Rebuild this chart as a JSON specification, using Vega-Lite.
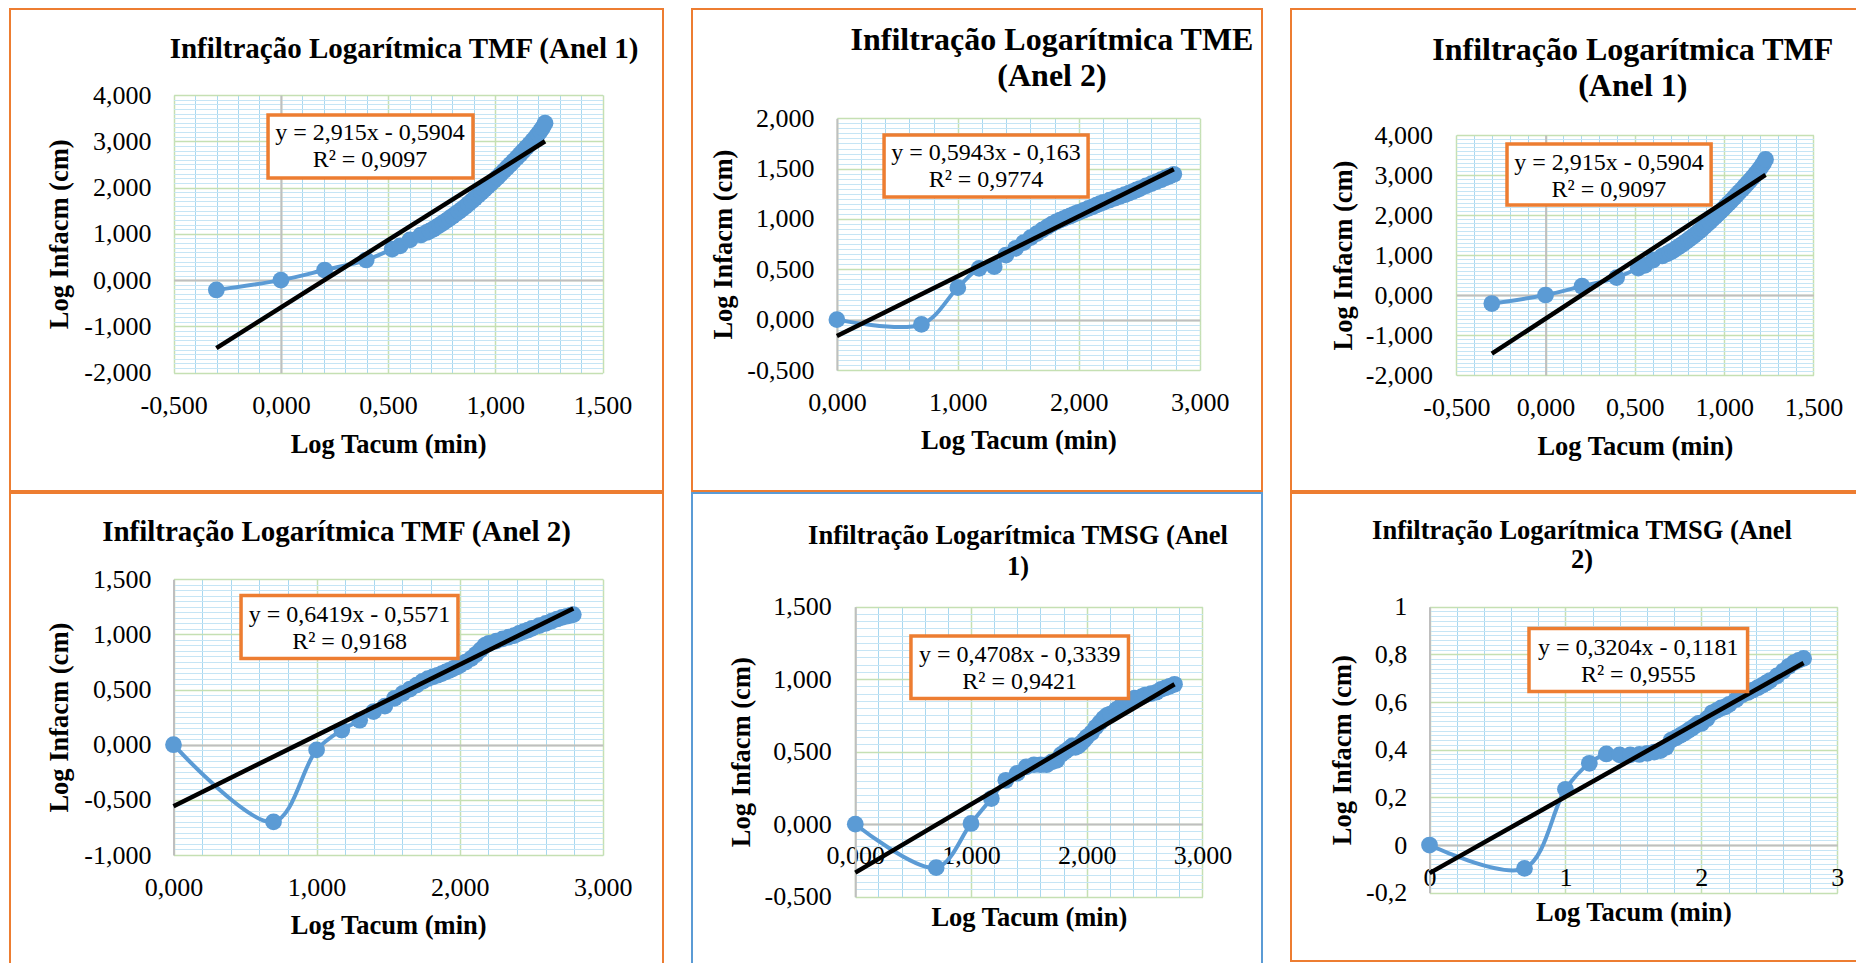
{
  "$schema": "https://vega.github.io/schema/vega-lite/v6.json",
  "background": "white",
  "padding": {"left": 9, "top": 8, "right": 4, "bottom": 4},
  "spacing": 27,
  "config": {
    "view": {"stroke": "#ED7D31", "strokeWidth": 2},
    "axis": {"labelFont": "Liberation Serif", "titleFont": "Liberation Serif", "labelColor": "#000000", "titleColor": "#000000", "labelFlush": false, "labelOverlap": false, "labelBound": false, "tickSize": 0},
    "title": {"font": "Liberation Serif", "fontWeight": "bold", "color": "#000000", "anchor": "middle", "frame": "group"}
  },
  "datasets": {
    "tmf1": [{"t":-0.301,"i":-0.213},{"t":0,"i":0},{"t":0.204,"i":0.219},{"t":0.398,"i":0.435},{"t":0.519,"i":0.67},{"t":0.556,"i":0.74},{"t":0.602,"i":0.87},{"t":0.653,"i":0.975},{"t":0.68,"i":1.03},{"t":0.695,"i":1.065},{"t":0.71,"i":1.1},{"t":0.725,"i":1.145},{"t":0.74,"i":1.19},{"t":0.755,"i":1.235},{"t":0.77,"i":1.28},{"t":0.785,"i":1.33},{"t":0.8,"i":1.38},{"t":0.815,"i":1.43},{"t":0.83,"i":1.48},{"t":0.845,"i":1.535},{"t":0.86,"i":1.59},{"t":0.875,"i":1.65},{"t":0.89,"i":1.71},{"t":0.905,"i":1.77},{"t":0.92,"i":1.83},{"t":0.935,"i":1.895},{"t":0.95,"i":1.96},{"t":0.965,"i":2.025},{"t":0.98,"i":2.09},{"t":0.995,"i":2.155},{"t":1.01,"i":2.22},{"t":1.025,"i":2.29},{"t":1.04,"i":2.36},{"t":1.055,"i":2.43},{"t":1.07,"i":2.5},{"t":1.085,"i":2.57},{"t":1.1,"i":2.64},{"t":1.115,"i":2.715},{"t":1.13,"i":2.79},{"t":1.145,"i":2.865},{"t":1.16,"i":2.94},{"t":1.175,"i":3.02},{"t":1.19,"i":3.1},{"t":1.2,"i":3.16},{"t":1.21,"i":3.22},{"t":1.22,"i":3.29},{"t":1.232,"i":3.39}],
    "tmf1_trend": [{"t":-0.301,"i":-1.468},{"t":1.232,"i":3.001}],
    "eq_tmf1": [{"eq":"y = 2,915x - 0,5904\nR² = 0,9097"}],
    "tme2": [{"t":0,"i":0},{"t":0.699,"i":-0.047},{"t":1,"i":0.318},{"t":1.176,"i":0.51},{"t":1.301,"i":0.526},{"t":1.398,"i":0.642},{"t":1.477,"i":0.708},{"t":1.544,"i":0.765},{"t":1.602,"i":0.814},{"t":1.653,"i":0.854},{"t":1.699,"i":0.892},{"t":1.74,"i":0.921},{"t":1.778,"i":0.949},{"t":1.813,"i":0.972},{"t":1.845,"i":0.989},{"t":1.875,"i":1.003},{"t":1.903,"i":1.018},{"t":1.929,"i":1.03},{"t":1.954,"i":1.043},{"t":1.978,"i":1.055},{"t":2,"i":1.066},{"t":2.041,"i":1.086},{"t":2.079,"i":1.105},{"t":2.114,"i":1.121},{"t":2.146,"i":1.137},{"t":2.176,"i":1.152},{"t":2.204,"i":1.165},{"t":2.255,"i":1.187},{"t":2.301,"i":1.208},{"t":2.342,"i":1.225},{"t":2.38,"i":1.241},{"t":2.415,"i":1.257},{"t":2.447,"i":1.273},{"t":2.477,"i":1.288},{"t":2.505,"i":1.302},{"t":2.556,"i":1.328},{"t":2.602,"i":1.351},{"t":2.643,"i":1.372},{"t":2.681,"i":1.39},{"t":2.716,"i":1.408},{"t":2.748,"i":1.424},{"t":2.786,"i":1.444}],
    "tme2_trend": [{"t":0,"i":-0.163},{"t":2.786,"i":1.493}],
    "eq_tme2": [{"eq":"y = 0,5943x - 0,163\nR² = 0,9774"}],
    "tmf2": [{"t":0,"i":0},{"t":0.699,"i":-0.7},{"t":1,"i":-0.047},{"t":1.176,"i":0.133},{"t":1.301,"i":0.222},{"t":1.398,"i":0.3},{"t":1.477,"i":0.35},{"t":1.544,"i":0.42},{"t":1.602,"i":0.465},{"t":1.653,"i":0.505},{"t":1.699,"i":0.54},{"t":1.74,"i":0.575},{"t":1.778,"i":0.6},{"t":1.813,"i":0.615},{"t":1.845,"i":0.63},{"t":1.875,"i":0.645},{"t":1.903,"i":0.66},{"t":1.929,"i":0.675},{"t":1.954,"i":0.69},{"t":1.978,"i":0.705},{"t":2,"i":0.72},{"t":2.041,"i":0.75},{"t":2.079,"i":0.78},{"t":2.114,"i":0.82},{"t":2.146,"i":0.86},{"t":2.176,"i":0.9},{"t":2.204,"i":0.92},{"t":2.255,"i":0.94},{"t":2.301,"i":0.96},{"t":2.342,"i":0.975},{"t":2.38,"i":0.99},{"t":2.415,"i":1.01},{"t":2.447,"i":1.025},{"t":2.477,"i":1.04},{"t":2.505,"i":1.055},{"t":2.556,"i":1.08},{"t":2.602,"i":1.1},{"t":2.643,"i":1.12},{"t":2.681,"i":1.14},{"t":2.716,"i":1.155},{"t":2.748,"i":1.165},{"t":2.778,"i":1.175},{"t":2.794,"i":1.18}],
    "tmf2_trend": [{"t":0,"i":-0.557},{"t":2.794,"i":1.236}],
    "eq_tmf2": [{"eq":"y = 0,6419x - 0,5571\nR² = 0,9168"}],
    "tmsg1": [{"t":0,"i":0},{"t":0.699,"i":-0.3},{"t":1,"i":0.005},{"t":1.176,"i":0.177},{"t":1.301,"i":0.303},{"t":1.398,"i":0.35},{"t":1.477,"i":0.395},{"t":1.544,"i":0.41},{"t":1.602,"i":0.41},{"t":1.653,"i":0.41},{"t":1.699,"i":0.43},{"t":1.74,"i":0.44},{"t":1.778,"i":0.48},{"t":1.813,"i":0.5},{"t":1.845,"i":0.52},{"t":1.875,"i":0.54},{"t":1.903,"i":0.53},{"t":1.929,"i":0.54},{"t":1.954,"i":0.56},{"t":1.978,"i":0.58},{"t":2,"i":0.6},{"t":2.041,"i":0.63},{"t":2.079,"i":0.67},{"t":2.114,"i":0.7},{"t":2.146,"i":0.73},{"t":2.176,"i":0.75},{"t":2.204,"i":0.76},{"t":2.255,"i":0.79},{"t":2.301,"i":0.82},{"t":2.342,"i":0.84},{"t":2.38,"i":0.86},{"t":2.415,"i":0.87},{"t":2.447,"i":0.87},{"t":2.477,"i":0.88},{"t":2.505,"i":0.89},{"t":2.556,"i":0.9},{"t":2.602,"i":0.91},{"t":2.643,"i":0.93},{"t":2.681,"i":0.94},{"t":2.716,"i":0.95},{"t":2.759,"i":0.965}],
    "tmsg1_trend": [{"t":0,"i":-0.334},{"t":2.759,"i":0.965}],
    "eq_tmsg1": [{"eq":"y = 0,4708x - 0,3339\nR² = 0,9421"}],
    "tmsg2": [{"t":0,"i":0},{"t":0.699,"i":-0.098},{"t":1,"i":0.234},{"t":1.176,"i":0.343},{"t":1.301,"i":0.382},{"t":1.398,"i":0.378},{"t":1.477,"i":0.378},{"t":1.544,"i":0.38},{"t":1.602,"i":0.385},{"t":1.653,"i":0.39},{"t":1.699,"i":0.396},{"t":1.74,"i":0.41},{"t":1.778,"i":0.44},{"t":1.813,"i":0.45},{"t":1.845,"i":0.46},{"t":1.875,"i":0.47},{"t":1.903,"i":0.48},{"t":1.929,"i":0.49},{"t":1.954,"i":0.5},{"t":1.978,"i":0.51},{"t":2,"i":0.51},{"t":2.041,"i":0.53},{"t":2.079,"i":0.555},{"t":2.114,"i":0.565},{"t":2.146,"i":0.575},{"t":2.176,"i":0.58},{"t":2.204,"i":0.59},{"t":2.255,"i":0.61},{"t":2.301,"i":0.63},{"t":2.342,"i":0.64},{"t":2.38,"i":0.65},{"t":2.415,"i":0.66},{"t":2.447,"i":0.67},{"t":2.477,"i":0.68},{"t":2.505,"i":0.69},{"t":2.556,"i":0.71},{"t":2.602,"i":0.73},{"t":2.643,"i":0.75},{"t":2.681,"i":0.765},{"t":2.716,"i":0.775},{"t":2.752,"i":0.783}],
    "tmsg2_trend": [{"t":0,"i":-0.118},{"t":2.752,"i":0.764}],
    "eq_tmsg2": [{"eq":"y = 0,3204x - 0,1181\nR² = 0,9555"}]
  },
  "hconcat": [
    {
      "spacing": 0,
      "vconcat": [
        {
          "width": 653, "height": 482,
          "title": {"text": "Infiltração Logarítmica TMF (Anel 1)", "fontSize": 29, "offset": -54.8, "dx": 67.5},
          "data": {"name": "tmf1"},
          "layer": [
            {"mark": {"type": "line", "interpolate": "catmull-rom", "color": "#5B9BD5", "strokeWidth": 4},
             "encoding": {
               "x": {"field": "t", "type": "quantitative", "scale": {"domain": [-0.5, 1.5], "range": [163.7, 592.5], "nice": false, "zero": false}, "axis": {"orient": "top", "tickCount": 20, "grid": true, "gridColor": "#A9D8F0", "gridWidth": 1, "labels": false, "ticks": false, "domain": false, "title": null}},
               "y": {"field": "i", "type": "quantitative", "scale": {"domain": [-2, 4], "range": [363.7, 86], "nice": false, "zero": false}, "axis": {"orient": "left", "tickCount": 60, "grid": true, "gridColor": "#C6E5F5", "gridWidth": 1, "labels": false, "ticks": false, "domain": false, "title": null}}}},
            {"mark": {"type": "point", "filled": true, "size": 280, "color": "#5B9BD5", "opacity": 1},
             "encoding": {
               "x": {"field": "t", "type": "quantitative", "scale": {"domain": [-0.5, 1.5], "range": [163.7, 592.5], "nice": false, "zero": false}, "axis": {"orient": "top", "values": [-0.5, 0, 0.5, 1, 1.5], "grid": true, "gridColor": "#C5E0B3", "gridWidth": 1.5, "labels": false, "ticks": false, "domain": false, "title": null}},
               "y": {"field": "i", "type": "quantitative", "scale": {"domain": [-2, 4], "range": [363.7, 86], "nice": false, "zero": false}, "axis": {"orient": "left", "values": [-2, -1, 0, 1, 2, 3, 4], "grid": true, "gridColor": "#C5E0B3", "gridWidth": 1.5, "labels": false, "ticks": false, "domain": false, "title": null}}}},
            {"data": {"name": "tmf1_trend"},
             "mark": {"type": "line", "color": "#000000", "strokeWidth": 4.5},
             "encoding": {
               "x": {"field": "t", "type": "quantitative", "scale": {"domain": [-0.5, 1.5], "range": [163.7, 592.5], "nice": false, "zero": false}, "axis": null},
               "y": {"field": "i", "type": "quantitative", "scale": {"domain": [-2, 4], "range": [363.7, 86], "nice": false, "zero": false}, "axis": {"orient": "left", "offset": -270.9, "values": [0], "grid": true, "gridColor": "#BFBFBF", "gridWidth": 2, "domain": true, "domainColor": "#BFBFBF", "domainWidth": 2, "labels": false, "ticks": false, "title": null}}}},
            {"data": {"name": "eq_tmf1"},
             "mark": {"type": "rect", "fill": "#FFFFFF", "stroke": "#ED7D31", "strokeWidth": 3.5},
             "encoding": {
               "x": {"datum": -0.06, "type": "quantitative", "scale": {"domain": [-0.5, 1.5], "range": [163.7, 592.5], "nice": false, "zero": false}, "axis": {"orient": "bottom", "offset": -118.3, "values": [-0.5, 0, 0.5, 1, 1.5], "grid": false, "domain": false, "ticks": false, "labelPadding": 40.3, "labelBaseline": "alphabetic", "labelFontSize": 26, "labelExpr": "replace(replace(format(datum.value,'.3f'),'.',','),'−','-')", "title": "Log Tacum (min)", "titleFontSize": 26.5, "titleFontWeight": "bold", "titleY": 79.3, "titleBaseline": "alphabetic"}},
               "x2": {"datum": 0.896},
               "y": {"datum": 3.568, "type": "quantitative", "scale": {"domain": [-2, 4], "range": [363.7, 86], "nice": false, "zero": false}, "axis": {"orient": "left", "offset": -163.7, "values": [-2, -1, 0, 1, 2, 3, 4], "grid": false, "domain": false, "ticks": false, "labelPadding": 22.7, "labelFontSize": 26, "labelExpr": "replace(replace(format(datum.value,'.3f'),'.',','),'−','-')", "title": "Log Infacm (cm)", "titleFontSize": 26.5, "titleFontWeight": "bold", "titleX": -106.2, "titleBaseline": "alphabetic"}},
               "y2": {"datum": 2.207}}},
            {"data": {"name": "eq_tmf1"},
             "mark": {"type": "text", "font": "Liberation Serif", "fontSize": 24, "color": "#000000", "align": "center", "baseline": "alphabetic", "lineBreak": "\n", "lineHeight": 27.5},
             "encoding": {
               "x": {"datum": 0.4156, "type": "quantitative", "scale": {"domain": [-0.5, 1.5], "range": [163.7, 592.5], "nice": false, "zero": false}, "axis": null},
               "y": {"datum": 3.028, "type": "quantitative", "scale": {"domain": [-2, 4], "range": [363.7, 86], "nice": false, "zero": false}, "axis": null},
               "text": {"field": "eq"}}}
          ],
          "resolve": {"axis": {"x": "independent", "y": "independent"}}
        },
        {
          "width": 653, "height": 480,
          "title": {"text": "Infiltração Logarítmica TMF (Anel 2)", "fontSize": 29, "offset": -54.1, "dx": 0},
          "data": {"name": "tmf2"},
          "layer": [
            {"mark": {"type": "line", "interpolate": "catmull-rom", "color": "#5B9BD5", "strokeWidth": 4},
             "encoding": {
               "x": {"field": "t", "type": "quantitative", "scale": {"domain": [0, 3], "range": [163.5, 592.8], "nice": false, "zero": false}, "axis": {"orient": "top", "tickCount": 15, "grid": true, "gridColor": "#A9D8F0", "gridWidth": 1, "labels": false, "ticks": false, "domain": false, "title": null}},
               "y": {"field": "i", "type": "quantitative", "scale": {"domain": [-1, 1.5], "range": [362, 86.3], "nice": false, "zero": false}, "axis": {"orient": "left", "tickCount": 50, "grid": true, "gridColor": "#C6E5F5", "gridWidth": 1, "labels": false, "ticks": false, "domain": false, "title": null}}}},
            {"mark": {"type": "point", "filled": true, "size": 280, "color": "#5B9BD5", "opacity": 1},
             "encoding": {
               "x": {"field": "t", "type": "quantitative", "scale": {"domain": [0, 3], "range": [163.5, 592.8], "nice": false, "zero": false}, "axis": {"orient": "top", "values": [0, 1, 2, 3], "grid": true, "gridColor": "#C5E0B3", "gridWidth": 1.5, "labels": false, "ticks": false, "domain": false, "title": null}},
               "y": {"field": "i", "type": "quantitative", "scale": {"domain": [-1, 1.5], "range": [362, 86.3], "nice": false, "zero": false}, "axis": {"orient": "left", "values": [-1, -0.5, 0, 0.5, 1, 1.5], "grid": true, "gridColor": "#C5E0B3", "gridWidth": 1.5, "labels": false, "ticks": false, "domain": false, "title": null}}}},
            {"data": {"name": "tmf2_trend"},
             "mark": {"type": "line", "color": "#000000", "strokeWidth": 4.5},
             "encoding": {
               "x": {"field": "t", "type": "quantitative", "scale": {"domain": [0, 3], "range": [163.5, 592.8], "nice": false, "zero": false}, "axis": null},
               "y": {"field": "i", "type": "quantitative", "scale": {"domain": [-1, 1.5], "range": [362, 86.3], "nice": false, "zero": false}, "axis": {"orient": "left", "offset": -163.5, "values": [0], "grid": true, "gridColor": "#BFBFBF", "gridWidth": 2, "domain": true, "domainColor": "#BFBFBF", "domainWidth": 2, "labels": false, "ticks": false, "title": null}}}},
            {"data": {"name": "eq_tmf2"},
             "mark": {"type": "rect", "fill": "#FFFFFF", "stroke": "#ED7D31", "strokeWidth": 3.5},
             "encoding": {
               "x": {"datum": 0.472, "type": "quantitative", "scale": {"domain": [0, 3], "range": [163.5, 592.8], "nice": false, "zero": false}, "axis": {"orient": "bottom", "offset": -118, "values": [0, 1, 2, 3], "grid": false, "domain": false, "ticks": false, "labelPadding": 40, "labelBaseline": "alphabetic", "labelFontSize": 26, "labelExpr": "replace(replace(format(datum.value,'.3f'),'.',','),'−','-')", "title": "Log Tacum (min)", "titleFontSize": 26.5, "titleFontWeight": "bold", "titleY": 78, "titleBaseline": "alphabetic"}},
               "x2": {"datum": 1.988},
               "y": {"datum": 1.353, "type": "quantitative", "scale": {"domain": [-1, 1.5], "range": [362, 86.3], "nice": false, "zero": false}, "axis": {"orient": "left", "offset": -163.5, "values": [-1, -0.5, 0, 0.5, 1, 1.5], "grid": false, "domain": false, "ticks": false, "labelPadding": 22.5, "labelFontSize": 26, "labelExpr": "replace(replace(format(datum.value,'.3f'),'.',','),'−','-')", "title": "Log Infacm (cm)", "titleFontSize": 26.5, "titleFontWeight": "bold", "titleX": -106, "titleBaseline": "alphabetic"}},
               "y2": {"datum": 0.782}}},
            {"data": {"name": "eq_tmf2"},
             "mark": {"type": "text", "font": "Liberation Serif", "fontSize": 24, "color": "#000000", "align": "center", "baseline": "alphabetic", "lineBreak": "\n", "lineHeight": 27.6},
             "encoding": {
               "x": {"datum": 1.23, "type": "quantitative", "scale": {"domain": [0, 3], "range": [163.5, 592.8], "nice": false, "zero": false}, "axis": null},
               "y": {"datum": 1.116, "type": "quantitative", "scale": {"domain": [-1, 1.5], "range": [362, 86.3], "nice": false, "zero": false}, "axis": null},
               "text": {"field": "eq"}}}
          ],
          "resolve": {"axis": {"x": "independent", "y": "independent"}}
        }
      ]
    },
    {
      "spacing": 0,
      "vconcat": [
        {
          "width": 570, "height": 482,
          "title": {"text": ["Infiltração Logarítmica TME", "(Anel 2)"], "fontSize": 32, "lineHeight": 35.7, "offset": -83.7, "dx": 75},
          "data": {"name": "tme2"},
          "layer": [
            {"mark": {"type": "line", "interpolate": "catmull-rom", "color": "#5B9BD5", "strokeWidth": 4},
             "encoding": {
               "x": {"field": "t", "type": "quantitative", "scale": {"domain": [0, 3], "range": [144.9, 507.7], "nice": false, "zero": false}, "axis": {"orient": "top", "tickCount": 15, "grid": true, "gridColor": "#A9D8F0", "gridWidth": 1, "labels": false, "ticks": false, "domain": false, "title": null}},
               "y": {"field": "i", "type": "quantitative", "scale": {"domain": [-0.5, 2], "range": [361, 109.3], "nice": false, "zero": false}, "axis": {"orient": "left", "tickCount": 50, "grid": true, "gridColor": "#C6E5F5", "gridWidth": 1, "labels": false, "ticks": false, "domain": false, "title": null}}}},
            {"mark": {"type": "point", "filled": true, "size": 280, "color": "#5B9BD5", "opacity": 1},
             "encoding": {
               "x": {"field": "t", "type": "quantitative", "scale": {"domain": [0, 3], "range": [144.9, 507.7], "nice": false, "zero": false}, "axis": {"orient": "top", "values": [0, 1, 2, 3], "grid": true, "gridColor": "#C5E0B3", "gridWidth": 1.5, "labels": false, "ticks": false, "domain": false, "title": null}},
               "y": {"field": "i", "type": "quantitative", "scale": {"domain": [-0.5, 2], "range": [361, 109.3], "nice": false, "zero": false}, "axis": {"orient": "left", "values": [-0.5, 0, 0.5, 1, 1.5, 2], "grid": true, "gridColor": "#C5E0B3", "gridWidth": 1.5, "labels": false, "ticks": false, "domain": false, "title": null}}}},
            {"data": {"name": "tme2_trend"},
             "mark": {"type": "line", "color": "#000000", "strokeWidth": 4.5},
             "encoding": {
               "x": {"field": "t", "type": "quantitative", "scale": {"domain": [0, 3], "range": [144.9, 507.7], "nice": false, "zero": false}, "axis": null},
               "y": {"field": "i", "type": "quantitative", "scale": {"domain": [-0.5, 2], "range": [361, 109.3], "nice": false, "zero": false}, "axis": {"orient": "left", "offset": -144.9, "values": [0], "grid": true, "gridColor": "#BFBFBF", "gridWidth": 2, "domain": true, "domainColor": "#BFBFBF", "domainWidth": 2, "labels": false, "ticks": false, "title": null}}}},
            {"data": {"name": "eq_tme2"},
             "mark": {"type": "rect", "fill": "#FFFFFF", "stroke": "#ED7D31", "strokeWidth": 3.5},
             "encoding": {
               "x": {"datum": 0.39, "type": "quantitative", "scale": {"domain": [0, 3], "range": [144.9, 507.7], "nice": false, "zero": false}, "axis": {"orient": "bottom", "offset": -121, "values": [0, 1, 2, 3], "grid": false, "domain": false, "ticks": false, "labelPadding": 40, "labelBaseline": "alphabetic", "labelFontSize": 26, "labelExpr": "replace(replace(format(datum.value,'.3f'),'.',','),'−','-')", "title": "Log Tacum (min)", "titleFontSize": 26.5, "titleFontWeight": "bold", "titleY": 78, "titleBaseline": "alphabetic"}},
               "x2": {"datum": 2.077},
               "y": {"datum": 1.834, "type": "quantitative", "scale": {"domain": [-0.5, 2], "range": [361, 109.3], "nice": false, "zero": false}, "axis": {"orient": "left", "offset": -144.9, "values": [-0.5, 0, 0.5, 1, 1.5, 2], "grid": false, "domain": false, "ticks": false, "labelPadding": 22.9, "labelFontSize": 26, "labelExpr": "replace(replace(format(datum.value,'.3f'),'.',','),'−','-')", "title": "Log Infacm (cm)", "titleFontSize": 26.5, "titleFontWeight": "bold", "titleX": -105, "titleBaseline": "alphabetic"}},
               "y2": {"datum": 1.218}}},
            {"data": {"name": "eq_tme2"},
             "mark": {"type": "text", "font": "Liberation Serif", "fontSize": 24, "color": "#000000", "align": "center", "baseline": "alphabetic", "lineBreak": "\n", "lineHeight": 27.3},
             "encoding": {
               "x": {"datum": 1.233, "type": "quantitative", "scale": {"domain": [0, 3], "range": [144.9, 507.7], "nice": false, "zero": false}, "axis": null},
               "y": {"datum": 1.586, "type": "quantitative", "scale": {"domain": [-0.5, 2], "range": [361, 109.3], "nice": false, "zero": false}, "axis": null},
               "text": {"field": "eq"}}}
          ],
          "resolve": {"axis": {"x": "independent", "y": "independent"}}
        },
        {
          "width": 570, "height": 480,
          "view": {"stroke": "#5B9BD5", "strokeWidth": 2},
          "title": {"text": ["Infiltração Logarítmica TMSG (Anel", "1)"], "fontSize": 26.5, "lineHeight": 31, "offset": -87.9, "dx": 41},
          "data": {"name": "tmsg1"},
          "layer": [
            {"mark": {"type": "line", "interpolate": "catmull-rom", "color": "#5B9BD5", "strokeWidth": 4},
             "encoding": {
               "x": {"field": "t", "type": "quantitative", "scale": {"domain": [0, 3], "range": [163.3, 510.4], "nice": false, "zero": false}, "axis": {"orient": "top", "tickCount": 15, "grid": true, "gridColor": "#A9D8F0", "gridWidth": 1, "labels": false, "ticks": false, "domain": false, "title": null}},
               "y": {"field": "i", "type": "quantitative", "scale": {"domain": [-0.5, 1.5], "range": [403.7, 113.7], "nice": false, "zero": false}, "axis": {"orient": "left", "tickCount": 40, "grid": true, "gridColor": "#C6E5F5", "gridWidth": 1, "labels": false, "ticks": false, "domain": false, "title": null}}}},
            {"mark": {"type": "point", "filled": true, "size": 280, "color": "#5B9BD5", "opacity": 1},
             "encoding": {
               "x": {"field": "t", "type": "quantitative", "scale": {"domain": [0, 3], "range": [163.3, 510.4], "nice": false, "zero": false}, "axis": {"orient": "top", "values": [0, 1, 2, 3], "grid": true, "gridColor": "#C5E0B3", "gridWidth": 1.5, "labels": false, "ticks": false, "domain": false, "title": null}},
               "y": {"field": "i", "type": "quantitative", "scale": {"domain": [-0.5, 1.5], "range": [403.7, 113.7], "nice": false, "zero": false}, "axis": {"orient": "left", "values": [-0.5, 0, 0.5, 1, 1.5], "grid": true, "gridColor": "#C5E0B3", "gridWidth": 1.5, "labels": false, "ticks": false, "domain": false, "title": null}}}},
            {"data": {"name": "tmsg1_trend"},
             "mark": {"type": "line", "color": "#000000", "strokeWidth": 4.5},
             "encoding": {
               "x": {"field": "t", "type": "quantitative", "scale": {"domain": [0, 3], "range": [163.3, 510.4], "nice": false, "zero": false}, "axis": null},
               "y": {"field": "i", "type": "quantitative", "scale": {"domain": [-0.5, 1.5], "range": [403.7, 113.7], "nice": false, "zero": false}, "axis": {"orient": "left", "offset": -163.3, "values": [0], "grid": true, "gridColor": "#BFBFBF", "gridWidth": 2, "domain": true, "domainColor": "#BFBFBF", "domainWidth": 2, "labels": false, "ticks": false, "title": null}}}},
            {"data": {"name": "eq_tmsg1"},
             "mark": {"type": "rect", "fill": "#FFFFFF", "stroke": "#ED7D31", "strokeWidth": 3.5},
             "encoding": {
               "x": {"datum": 0.481, "type": "quantitative", "scale": {"domain": [0, 3], "range": [163.3, 510.4], "nice": false, "zero": false}, "axis": {"orient": "bottom", "offset": -148.8, "values": [0, 1, 2, 3], "grid": false, "domain": false, "ticks": false, "labelPadding": 39.1, "labelBaseline": "alphabetic", "labelFontSize": 26, "labelExpr": "replace(replace(format(datum.value,'.3f'),'.',','),'−','-')", "title": "Log Tacum (min)", "titleFontSize": 26.5, "titleFontWeight": "bold", "titleY": 100.8, "titleBaseline": "alphabetic"}},
               "x2": {"datum": 2.361},
               "y": {"datum": 1.298, "type": "quantitative", "scale": {"domain": [-0.5, 1.5], "range": [403.7, 113.7], "nice": false, "zero": false}, "axis": {"orient": "left", "offset": -163.3, "values": [-0.5, 0, 0.5, 1, 1.5], "grid": false, "domain": false, "ticks": false, "labelPadding": 24.1, "labelFontSize": 26, "labelExpr": "replace(replace(format(datum.value,'.3f'),'.',','),'−','-')", "title": "Log Infacm (cm)", "titleFontSize": 26.5, "titleFontWeight": "bold", "titleX": -106.1, "titleBaseline": "alphabetic"}},
               "y2": {"datum": 0.867}}},
            {"data": {"name": "eq_tmsg1"},
             "mark": {"type": "text", "font": "Liberation Serif", "fontSize": 24, "color": "#000000", "align": "center", "baseline": "alphabetic", "lineBreak": "\n", "lineHeight": 27.6},
             "encoding": {
               "x": {"datum": 1.421, "type": "quantitative", "scale": {"domain": [0, 3], "range": [163.3, 510.4], "nice": false, "zero": false}, "axis": null},
               "y": {"datum": 1.121, "type": "quantitative", "scale": {"domain": [-0.5, 1.5], "range": [403.7, 113.7], "nice": false, "zero": false}, "axis": null},
               "text": {"field": "eq"}}}
          ],
          "resolve": {"axis": {"x": "independent", "y": "independent"}}
        }
      ]
    },
    {
      "spacing": 0,
      "vconcat": [
        {
          "width": 580, "height": 482,
          "title": {"text": ["Infiltração Logarítmica TMF", "(Anel 1)"], "fontSize": 32, "lineHeight": 36, "offset": -94, "dx": 51.8},
          "data": {"name": "tmf1"},
          "layer": [
            {"mark": {"type": "line", "interpolate": "catmull-rom", "color": "#5B9BD5", "strokeWidth": 4},
             "encoding": {
               "x": {"field": "t", "type": "quantitative", "scale": {"domain": [-0.5, 1.5], "range": [165.3, 522.4], "nice": false, "zero": false}, "axis": {"orient": "top", "tickCount": 20, "grid": true, "gridColor": "#A9D8F0", "gridWidth": 1, "labels": false, "ticks": false, "domain": false, "title": null}},
               "y": {"field": "i", "type": "quantitative", "scale": {"domain": [-2, 4], "range": [366, 126], "nice": false, "zero": false}, "axis": {"orient": "left", "tickCount": 60, "grid": true, "gridColor": "#C6E5F5", "gridWidth": 1, "labels": false, "ticks": false, "domain": false, "title": null}}}},
            {"mark": {"type": "point", "filled": true, "size": 280, "color": "#5B9BD5", "opacity": 1},
             "encoding": {
               "x": {"field": "t", "type": "quantitative", "scale": {"domain": [-0.5, 1.5], "range": [165.3, 522.4], "nice": false, "zero": false}, "axis": {"orient": "top", "values": [-0.5, 0, 0.5, 1, 1.5], "grid": true, "gridColor": "#C5E0B3", "gridWidth": 1.5, "labels": false, "ticks": false, "domain": false, "title": null}},
               "y": {"field": "i", "type": "quantitative", "scale": {"domain": [-2, 4], "range": [366, 126], "nice": false, "zero": false}, "axis": {"orient": "left", "values": [-2, -1, 0, 1, 2, 3, 4], "grid": true, "gridColor": "#C5E0B3", "gridWidth": 1.5, "labels": false, "ticks": false, "domain": false, "title": null}}}},
            {"data": {"name": "tmf1_trend"},
             "mark": {"type": "line", "color": "#000000", "strokeWidth": 4.5},
             "encoding": {
               "x": {"field": "t", "type": "quantitative", "scale": {"domain": [-0.5, 1.5], "range": [165.3, 522.4], "nice": false, "zero": false}, "axis": null},
               "y": {"field": "i", "type": "quantitative", "scale": {"domain": [-2, 4], "range": [366, 126], "nice": false, "zero": false}, "axis": {"orient": "left", "offset": -254.6, "values": [0], "grid": true, "gridColor": "#BFBFBF", "gridWidth": 2, "domain": true, "domainColor": "#BFBFBF", "domainWidth": 2, "labels": false, "ticks": false, "title": null}}}},
            {"data": {"name": "eq_tmf1"},
             "mark": {"type": "rect", "fill": "#FFFFFF", "stroke": "#ED7D31", "strokeWidth": 3.5},
             "encoding": {
               "x": {"datum": -0.216, "type": "quantitative", "scale": {"domain": [-0.5, 1.5], "range": [165.3, 522.4], "nice": false, "zero": false}, "axis": {"orient": "bottom", "offset": -116, "values": [-0.5, 0, 0.5, 1, 1.5], "grid": false, "domain": false, "ticks": false, "labelPadding": 40, "labelBaseline": "alphabetic", "labelFontSize": 26, "labelExpr": "replace(replace(format(datum.value,'.3f'),'.',','),'−','-')", "title": "Log Tacum (min)", "titleFontSize": 26.5, "titleFontWeight": "bold", "titleY": 79, "titleBaseline": "alphabetic"}},
               "x2": {"datum": 0.927},
               "y": {"datum": 3.775, "type": "quantitative", "scale": {"domain": [-2, 4], "range": [366, 126], "nice": false, "zero": false}, "axis": {"orient": "left", "offset": -165.3, "values": [-2, -1, 0, 1, 2, 3, 4], "grid": false, "domain": false, "ticks": false, "labelPadding": 23.8, "labelFontSize": 26, "labelExpr": "replace(replace(format(datum.value,'.3f'),'.',','),'−','-')", "title": "Log Infacm (cm)", "titleFontSize": 26.5, "titleFontWeight": "bold", "titleX": -105.3, "titleBaseline": "alphabetic"}},
               "y2": {"datum": 2.25}}},
            {"data": {"name": "eq_tmf1"},
             "mark": {"type": "text", "font": "Liberation Serif", "fontSize": 24, "color": "#000000", "align": "center", "baseline": "alphabetic", "lineBreak": "\n", "lineHeight": 26.7},
             "encoding": {
               "x": {"datum": 0.355, "type": "quantitative", "scale": {"domain": [-0.5, 1.5], "range": [165.3, 522.4], "nice": false, "zero": false}, "axis": null},
               "y": {"datum": 3.125, "type": "quantitative", "scale": {"domain": [-2, 4], "range": [366, 126], "nice": false, "zero": false}, "axis": null},
               "text": {"field": "eq"}}}
          ],
          "resolve": {"axis": {"x": "independent", "y": "independent"}}
        },
        {
          "width": 580, "height": 468,
          "title": {"text": ["Infiltração Logarítmica TMSG (Anel", "2)"], "fontSize": 26.5, "lineHeight": 29, "offset": -80.9, "dx": 1},
          "data": {"name": "tmsg2"},
          "layer": [
            {"mark": {"type": "line", "interpolate": "catmull-rom", "color": "#5B9BD5", "strokeWidth": 4},
             "encoding": {
               "x": {"field": "t", "type": "quantitative", "scale": {"domain": [0, 3], "range": [138.5, 546.3], "nice": false, "zero": false}, "axis": {"orient": "top", "tickCount": 15, "grid": true, "gridColor": "#A9D8F0", "gridWidth": 1, "labels": false, "ticks": false, "domain": false, "title": null}},
               "y": {"field": "i", "type": "quantitative", "scale": {"domain": [-0.2, 1], "range": [399.7, 113.7], "nice": false, "zero": false}, "axis": {"orient": "left", "tickCount": 60, "grid": true, "gridColor": "#C6E5F5", "gridWidth": 1, "labels": false, "ticks": false, "domain": false, "title": null}}}},
            {"mark": {"type": "point", "filled": true, "size": 280, "color": "#5B9BD5", "opacity": 1},
             "encoding": {
               "x": {"field": "t", "type": "quantitative", "scale": {"domain": [0, 3], "range": [138.5, 546.3], "nice": false, "zero": false}, "axis": {"orient": "top", "values": [0, 1, 2, 3], "grid": true, "gridColor": "#C5E0B3", "gridWidth": 1.5, "labels": false, "ticks": false, "domain": false, "title": null}},
               "y": {"field": "i", "type": "quantitative", "scale": {"domain": [-0.2, 1], "range": [399.7, 113.7], "nice": false, "zero": false}, "axis": {"orient": "left", "values": [-0.2, 0, 0.2, 0.4, 0.6, 0.8, 1], "grid": true, "gridColor": "#C5E0B3", "gridWidth": 1.5, "labels": false, "ticks": false, "domain": false, "title": null}}}},
            {"data": {"name": "tmsg2_trend"},
             "mark": {"type": "line", "color": "#000000", "strokeWidth": 4.5},
             "encoding": {
               "x": {"field": "t", "type": "quantitative", "scale": {"domain": [0, 3], "range": [138.5, 546.3], "nice": false, "zero": false}, "axis": null},
               "y": {"field": "i", "type": "quantitative", "scale": {"domain": [-0.2, 1], "range": [399.7, 113.7], "nice": false, "zero": false}, "axis": {"orient": "left", "offset": -138.5, "values": [0], "grid": true, "gridColor": "#BFBFBF", "gridWidth": 2, "domain": true, "domainColor": "#BFBFBF", "domainWidth": 2, "labels": false, "ticks": false, "title": null}}}},
            {"data": {"name": "eq_tmsg2"},
             "mark": {"type": "rect", "fill": "#FFFFFF", "stroke": "#ED7D31", "strokeWidth": 3.5},
             "encoding": {
               "x": {"datum": 0.732, "type": "quantitative", "scale": {"domain": [0, 3], "range": [138.5, 546.3], "nice": false, "zero": false}, "axis": {"orient": "bottom", "offset": -116, "values": [0, 1, 2, 3], "grid": false, "domain": false, "ticks": false, "labelPadding": 40, "labelBaseline": "alphabetic", "labelFontSize": 26, "labelExpr": "replace(replace(format(datum.value,'~g'),'.',','),'−','-')", "title": "Log Tacum (min)", "titleFontSize": 26.5, "titleFontWeight": "bold", "titleY": 75.7, "titleBaseline": "alphabetic"}},
               "x2": {"datum": 2.34},
               "y": {"datum": 0.9085, "type": "quantitative", "scale": {"domain": [-0.2, 1], "range": [399.7, 113.7], "nice": false, "zero": false}, "axis": {"orient": "left", "offset": -138.5, "values": [-0.2, 0, 0.2, 0.4, 0.6, 0.8, 1], "grid": false, "domain": false, "ticks": false, "labelPadding": 22.8, "labelFontSize": 26, "labelExpr": "replace(replace(format(datum.value,'~g'),'.',','),'−','-')", "title": "Log Infacm (cm)", "titleFontSize": 26.5, "titleFontWeight": "bold", "titleX": -78.7, "titleBaseline": "alphabetic"}},
               "y2": {"datum": 0.644}}},
            {"data": {"name": "eq_tmsg2"},
             "mark": {"type": "text", "font": "Liberation Serif", "fontSize": 24, "color": "#000000", "align": "center", "baseline": "alphabetic", "lineBreak": "\n", "lineHeight": 26.7},
             "encoding": {
               "x": {"datum": 1.536, "type": "quantitative", "scale": {"domain": [0, 3], "range": [138.5, 546.3], "nice": false, "zero": false}, "axis": null},
               "y": {"datum": 0.797, "type": "quantitative", "scale": {"domain": [-0.2, 1], "range": [399.7, 113.7], "nice": false, "zero": false}, "axis": null},
               "text": {"field": "eq"}}}
          ],
          "resolve": {"axis": {"x": "independent", "y": "independent"}}
        }
      ]
    }
  ]
}
